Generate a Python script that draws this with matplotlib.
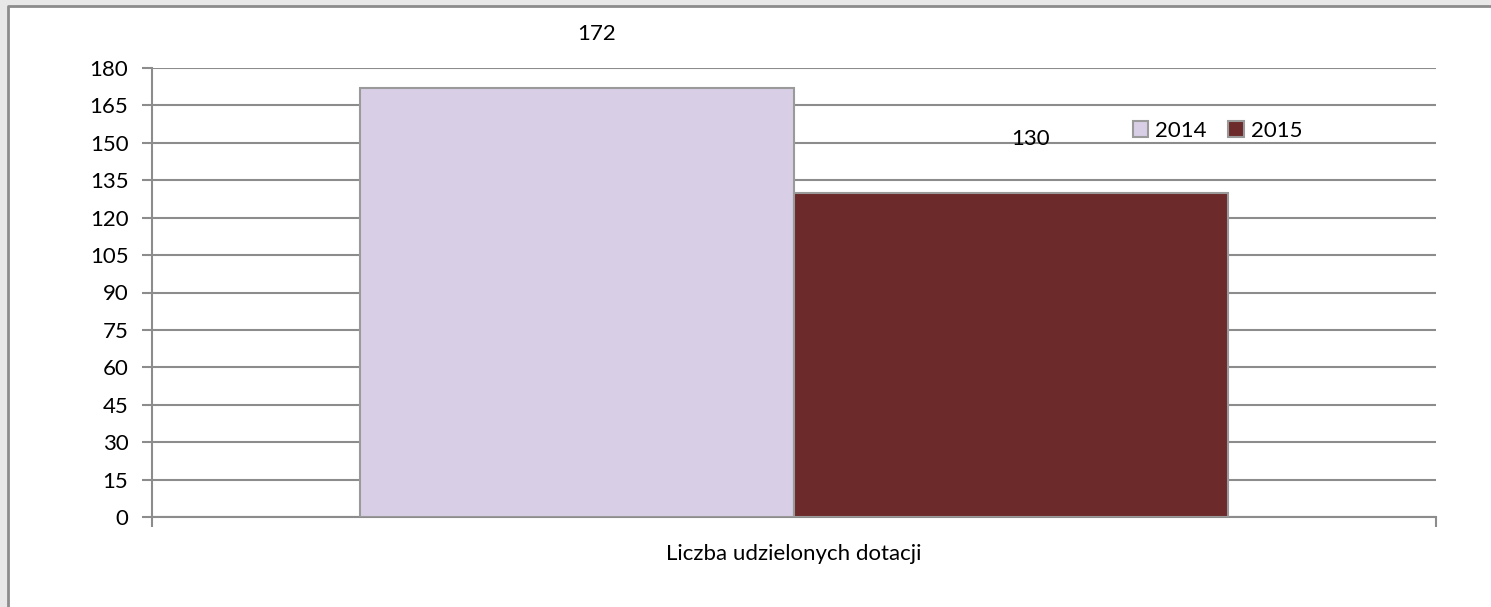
import matplotlib.pyplot as plt
from matplotlib.lines import Line2D

# dane
categories = ['Liczba udzielonych dotacji']
years = ['2014', '2015']
values_2014 = [172]
values_2015 = [130]
colors = ['#d8cfe6', '#6c2a2a']
yticks = list(range(0, 181, 15))

plt.rcParams['font.family'] = ['Lato', 'DejaVu Sans']

fig = plt.figure(figsize=(14.91, 6.07), dpi=100)
fig.patch.set_facecolor('white')
# szare tlo nad i na lewo od ramki + ramka (tylko lewa i gorna krawedz widoczna)
bg = fig.add_axes([0, 0, 1, 1], zorder=-10)
bg.set_xlim(0, 1491)
bg.set_ylim(607, 0)
bg.axis('off')
bg.fill_between([0, 1491], 0, 5.5, color='#e8e8e8', linewidth=0)
bg.fill_between([0, 7.5], 0, 607, color='#e8e8e8', linewidth=0)
bg.add_line(Line2D([8, 8, 1491], [607, 5.5, 5.5], color='#8c8c8c', linewidth=2))

ax = fig.add_axes([152 / 1491, 1 - 517 / 607, 1284 / 1491, 449 / 607])
ax.set_facecolor('none')

w = 0.338
x = 0
for i, (vals, year) in enumerate(zip([values_2014, values_2015], years)):
    off = (i - 0.5) * w
    b = ax.bar([x + off], vals, width=w, color=colors[i], edgecolor='#9a9a9a',
               linewidth=1.5, label=year, zorder=3)
    for rect, v in zip(b, vals):
        ax.annotate(str(v), (rect.get_x() + rect.get_width() / 2 + 0.015, v),
                    xytext=(0, 39), textcoords='offset points',
                    ha='center', va='center', fontsize=16, color='black')

ax.set_xlim(-0.5, 0.5)
ax.set_ylim(0, 180)
ax.set_yticks(yticks)
ax.set_xticks([-0.5, 0.5])
ax.set_xticklabels(['', ''])
ax.tick_params(axis='y', length=7, width=1.5, color='#8c8c8c', labelsize=16, pad=10)
ax.tick_params(axis='x', length=7, width=1.5, color='#8c8c8c', direction='out')
ax.grid(axis='y', color='#8c8c8c', linewidth=1.5, zorder=1)
for s in ['top', 'right']:
    ax.spines[s].set_visible(False)
ax.spines['left'].set_color('#8c8c8c')
ax.spines['left'].set_linewidth(1.5)
ax.spines['bottom'].set_color('#8c8c8c')
ax.spines['bottom'].set_linewidth(1.5)
ax.set_xlabel(categories[0], fontsize=16, labelpad=9)

ax.legend(loc='center left', bbox_to_anchor=(0.755, 0.86),
          ncol=2, frameon=False, fontsize=16, handlelength=0.7, handleheight=0.7,
          handletextpad=0.3, columnspacing=1.0, borderpad=0)

fig.savefig('out.png', dpi=100)
